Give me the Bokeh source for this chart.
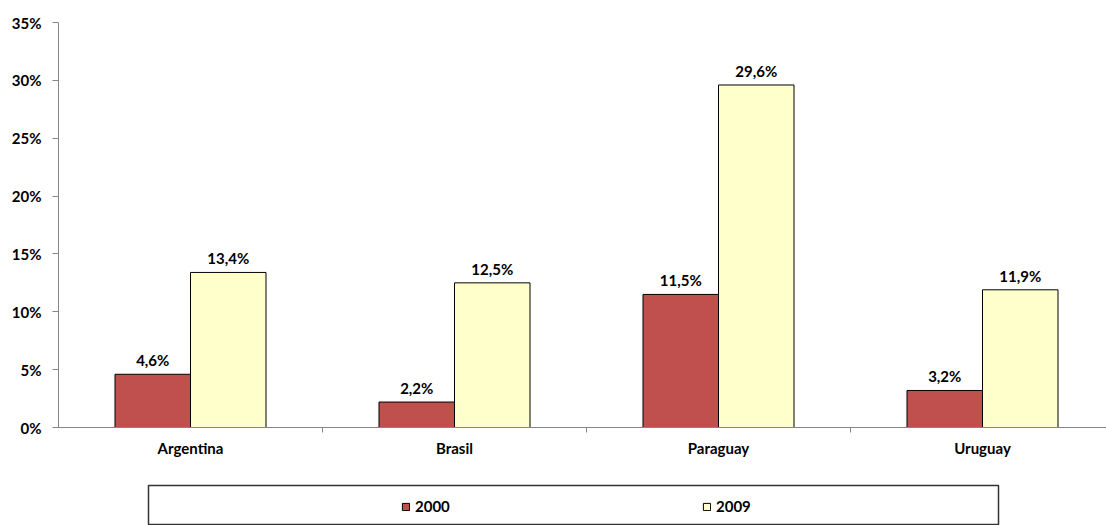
from bokeh.plotting import figure
from bokeh.models import (ColumnDataSource, Range1d, FixedTicker, Legend, LegendItem, BoxAnnotation)
from bokeh.layouts import column
from bokeh.embed import file_html
from bokeh.resources import INLINE
from bokeh.core.properties import value

categories = ["Argentina", "Brasil", "Paraguay", "Uruguay"]
series_names = ["2000", "2009"]
values_2000 = [4.6, 2.2, 11.5, 3.2]
values_2009 = [13.4, 12.5, 29.6, 11.9]
y_ticks = [0, 5, 10, 15, 20, 25, 30, 35]

colors = ["#C0504D", "#FFFFCC"]
FONT = "Lato"
FS = "15px"

def fmt(v):
    return f"{v:.1f}".replace(".", ",") + "%"

bar_w = 0.286
idx = list(range(len(categories)))
centers = [i + 0.5 for i in idx]

W = 1106
p = figure(width=W, height=470, output_backend="svg", toolbar_location=None,
           x_range=Range1d(0, (W - 58) / 264), y_range=Range1d(0, 35),
           min_border_left=58, min_border_right=0, min_border_top=22, min_border_bottom=43)
p.outline_line_color = None
p.xgrid.visible = False
p.ygrid.visible = False

for k, (vals, name) in enumerate(zip([values_2000, values_2009], series_names)):
    off = (-bar_w / 2) if k == 0 else (bar_w / 2)
    src = ColumnDataSource(dict(x=[c + off for c in centers], top=vals,
                                label=[fmt(v) for v in vals]))
    p.vbar(x="x", top="top", width=bar_w, bottom=0, source=src,
           fill_color=colors[k], line_color="black", line_width=1)
    p.text(x="x", y="top", text="label", source=src, text_align="center",
           text_baseline="alphabetic", y_offset=-14,
           text_font=value(FONT), text_font_style="bold", text_font_size=FS,
           text_color="black")

# y axis
p.yaxis.ticker = FixedTicker(ticks=y_ticks)
p.yaxis.major_label_overrides = {t: f"{t}%" for t in y_ticks}
p.yaxis.axis_line_color = "#868686"
p.yaxis.major_tick_line_color = "#868686"
p.yaxis.major_tick_out = 6
p.yaxis.major_tick_in = 0
p.yaxis.minor_tick_line_color = None
p.yaxis.major_label_standoff = 11
p.yaxis.major_label_text_font = FONT
p.yaxis.major_label_text_font_style = "bold"
p.yaxis.major_label_text_font_size = FS
p.yaxis.major_label_text_color = "black"

# x axis
p.xaxis.ticker = FixedTicker(ticks=centers, minor_ticks=[1, 2, 3])
p.xaxis.major_label_overrides = {c: n for c, n in zip(centers, categories)}
p.xaxis.axis_line_color = "#868686"
p.xaxis.major_tick_line_color = None
p.xaxis.major_tick_out = 0
p.xaxis.major_tick_in = 0
p.xaxis.minor_tick_line_color = "#868686"
p.xaxis.minor_tick_out = 5
p.xaxis.minor_tick_in = 0
p.xaxis.major_label_standoff = 6
p.xaxis.major_label_text_font = FONT
p.xaxis.major_label_text_font_style = "bold"
p.xaxis.major_label_text_font_size = FS
p.xaxis.major_label_text_color = "black"

# legend panel
p2 = figure(width=W, height=55, output_backend="svg", toolbar_location=None,
            x_range=Range1d(0, 1), y_range=Range1d(0, 1),
            x_axis_type=None, y_axis_type=None,
            min_border_left=58, min_border_right=0, min_border_top=0, min_border_bottom=0)
p2.xgrid.visible = False
p2.ygrid.visible = False
p2.outline_line_color = None

box = BoxAnnotation(left=148, right=998, top=15, bottom=54,
                    left_units="canvas", right_units="canvas",
                    top_units="canvas", bottom_units="canvas",
                    fill_alpha=0, line_color="#333333", line_alpha=1.0, line_width=1.5)
p2.add_layout(box)

items = []
for k, (vals, name) in enumerate(zip([values_2000, values_2009], series_names)):
    src = ColumnDataSource(dict(x=[c for c in centers], top=vals))
    r = p2.vbar(x="x", top="top", bottom=-1, width=0.01, source=src,
                fill_color=colors[k], line_color="black", line_width=1)
    items.append(LegendItem(label=name, renderers=[r]))
p2.y_range = Range1d(100, 101)

leg = Legend(items=items, orientation="horizontal", location=(343, 10),
             padding=0, margin=0, spacing=247, glyph_width=9, glyph_height=9,
             label_standoff=5, label_width=40, label_height=16,
             border_line_color=None, background_fill_alpha=0,
             label_text_font=FONT, label_text_font_style="bold",
             label_text_font_size=FS, label_text_color="black")
p2.add_layout(leg, "center")

layout = column(p, p2, spacing=0)
open("out.html", "w").write(file_html(layout, INLINE))
